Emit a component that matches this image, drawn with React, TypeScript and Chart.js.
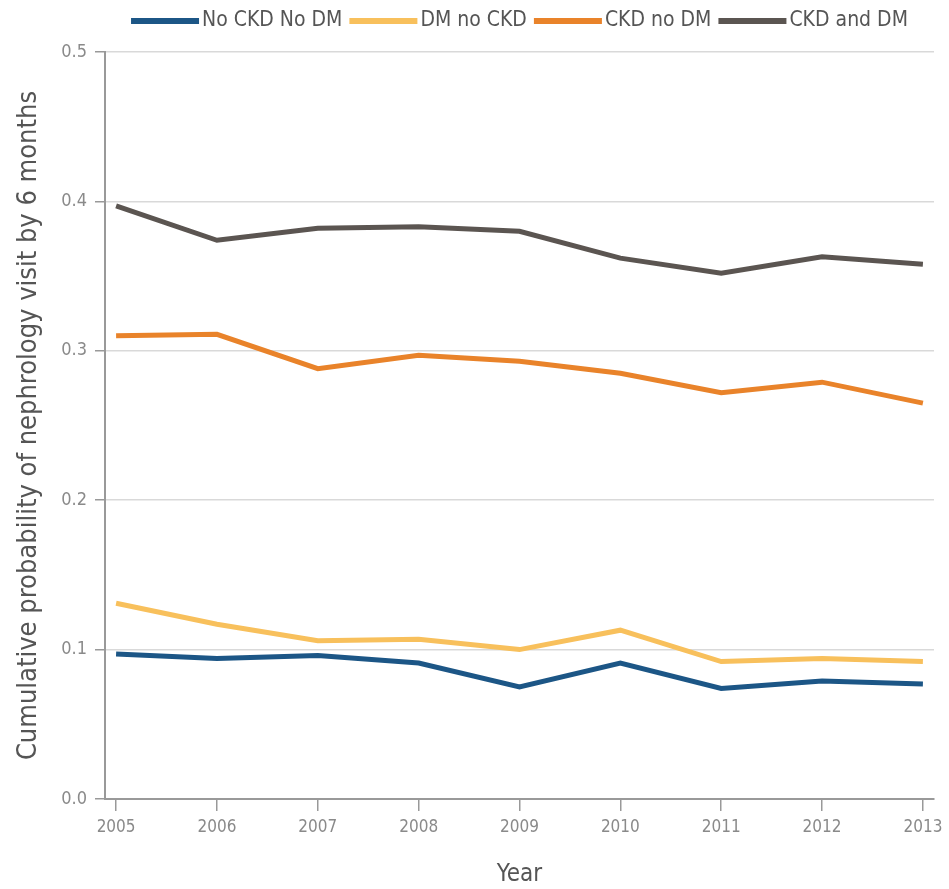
import React, { useEffect, useRef } from "react";
import { Chart, registerables } from "chart.js";

Chart.register(...registerables);

const years = [2005, 2006, 2007, 2008, 2009, 2010, 2011, 2012, 2013];
const noCkdNoDm = [0.097, 0.094, 0.096, 0.091, 0.075, 0.091, 0.074, 0.079, 0.077];
const dmNoCkd = [0.131, 0.117, 0.106, 0.107, 0.1, 0.113, 0.092, 0.094, 0.092];
const ckdNoDm = [0.31, 0.311, 0.288, 0.297, 0.293, 0.285, 0.272, 0.279, 0.265];
const ckdAndDm = [0.397, 0.374, 0.382, 0.383, 0.38, 0.362, 0.352, 0.363, 0.358];
const yTicks = [0, 0.1, 0.2, 0.3, 0.4, 0.5];

const FONT = "'DejaVu Sans Condensed', 'Liberation Sans Narrow', sans-serif";

const customLegend = {
  id: "customLegend",
  afterDraw(chart: any) {
    const ctx = chart.ctx;
    ctx.save();
    ctx.font = `21px ${FONT}`;
    ctx.textBaseline = "middle";
    ctx.textAlign = "left";
    const boxW = 68;
    const boxH = 6;
    const gapText = 3;
    const gapItem = 7;
    const items = chart.data.datasets.map((d: any) => ({
      label: d.label,
      color: d.borderColor,
      w: ctx.measureText(d.label).width,
    }));
    const total = items.reduce((s: number, it: any) => s + boxW + gapText + it.w, 0) + gapItem * (items.length - 1);
    const cx = 519.5;
    let x = cx - total / 2;
    const y = 21;
    for (const it of items) {
      ctx.fillStyle = it.color;
      ctx.fillRect(x, y - boxH / 2, boxW, boxH);
      x += boxW + gapText;
      ctx.fillStyle = "#555";
      ctx.fillText(it.label, x, y);
      x += it.w + gapItem;
    }
    ctx.restore();
  },
};

export default function App() {
  const ref = useRef<HTMLCanvasElement | null>(null);
  useEffect(() => {
    if (!ref.current) return;
    const mk = (label: string, data: number[], color: string) => ({
      label,
      data: data.map((v, i) => ({ x: years[i], y: v })),
      borderColor: color,
      backgroundColor: color,
      borderWidth: 5,
      pointRadius: 0,
      tension: 0,
      fill: false,
    });
    const chart = new Chart(ref.current, {
      type: "line",
      data: {
        datasets: [
          mk("No CKD No DM", noCkdNoDm, "#1c5686"),
          mk("DM no CKD", dmNoCkd, "#f8c05c"),
          mk("CKD no DM", ckdNoDm, "#e9832a"),
          mk("CKD and DM", ckdAndDm, "#5b5551"),
        ],
      },
      plugins: [customLegend],
      options: {
        animation: false,
        responsive: false,
        layout: { padding: { left: 0, right: 15, top: 52, bottom: 0 } },
        plugins: {
          tooltip: { enabled: false },
          legend: { display: false },
        },
        scales: {
          x: {
            type: "linear",
            min: 2004.89,
            max: 2013.11,
            afterBuildTicks: (s: any) => {
              s.ticks = years.map((v) => ({ value: v }));
            },
            afterFit: (s: any) => {
              s.height = 90;
            },
            ticks: {
              callback: (v: any) => String(v),
              color: "#8a8a8a",
              font: { family: FONT, size: 17 },
              padding: 6,
              autoSkip: false,
              maxRotation: 0,
            },
            grid: {
              drawOnChartArea: false,
              drawTicks: true,
              tickLength: 12,
              color: "#999",
              lineWidth: 1.5,
            },
            border: { color: "#999", width: 2 },
            title: {
              display: true,
              text: "Year",
              color: "#555",
              font: { family: FONT, size: 24 },
              padding: { top: 4, bottom: 0 },
            },
          },
          y: {
            min: 0,
            max: 0.5,
            afterBuildTicks: (s: any) => {
              s.ticks = yTicks.map((v) => ({ value: v }));
            },
            afterFit: (s: any) => {
              s.width = 105;
            },
            ticks: {
              callback: (v: any) => Number(v).toFixed(1),
              color: "#8a8a8a",
              font: { family: FONT, size: 18 },
              padding: 8,
            },
            grid: {
              color: (c: any) => (c.tick && c.tick.value === 0 ? "rgba(0,0,0,0)" : "#d9d9d9"),
              lineWidth: 1.5,
              drawTicks: true,
              tickLength: 10,
              tickColor: "#999",
            },
            border: { color: "#999", width: 2 },
            title: {
              display: true,
              text: "Cumulative probability of nephrology visit by 6 months",
              color: "#555",
              font: { family: FONT, size: 27 },
              padding: { top: 13, bottom: 4 },
            },
          },
        },
      },
    } as any);
    return () => chart.destroy();
  }, []);
  return (
    <div style={{ position: "absolute", left: 0, top: 0, width: 949, height: 889, background: "#fff" }}>
      <canvas ref={ref} width={949} height={889} style={{ display: "block" }} />
    </div>
  );
}
